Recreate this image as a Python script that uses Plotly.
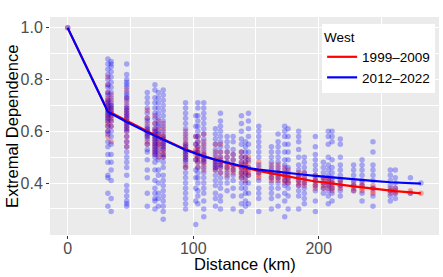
import plotly.graph_objects as go

# ---- data ----
distances = [32.0, 34.6, 47.0, 63.4, 69.5, 72.2, 76.1, 93.9, 102.0, 103.7, 108.4,
             117.7, 121.7, 127.0, 131.8, 138.4, 141.6, 144.0, 152.2, 162.3, 167.6,
             172.9, 175.6, 184.0, 188.5, 197.3, 203.7, 207.6, 210.6, 217.2, 227.8,
             234.5, 243.2, 257.0, 261.0, 273.0, 281.4]

blue_points = [
    [0.88, 0.86, 0.84, 0.82, 0.80, 0.78, 0.77, 0.75, 0.74, 0.72, 0.71, 0.70, 0.69, 0.68, 0.67, 0.66, 0.65, 0.64, 0.62, 0.60, 0.59, 0.56, 0.54, 0.51, 0.48, 0.43, 0.42, 0.36, 0.31],
    [0.87, 0.86, 0.85, 0.83, 0.81, 0.79, 0.77, 0.75, 0.73, 0.71, 0.70, 0.69, 0.68, 0.67, 0.66, 0.64, 0.62, 0.60, 0.58, 0.55, 0.51, 0.48, 0.45, 0.41, 0.34, 0.29],
    [0.86, 0.82, 0.80, 0.79, 0.78, 0.77, 0.75, 0.74, 0.73, 0.72, 0.70, 0.69, 0.68, 0.67, 0.66, 0.65, 0.64, 0.63, 0.62, 0.61, 0.60, 0.58, 0.56, 0.54, 0.52, 0.50, 0.48, 0.46, 0.43, 0.39, 0.37, 0.35, 0.33, 0.32, 0.31],
    [0.75, 0.73, 0.71, 0.69, 0.67, 0.65, 0.64, 0.62, 0.61, 0.60, 0.59, 0.58, 0.57, 0.55, 0.53, 0.52, 0.49, 0.45, 0.42, 0.36, 0.31],
    [0.78, 0.76, 0.73, 0.71, 0.69, 0.67, 0.65, 0.63, 0.61, 0.60, 0.59, 0.58, 0.57, 0.56, 0.55, 0.54, 0.53, 0.52, 0.51, 0.50, 0.48, 0.45, 0.41, 0.38, 0.36, 0.34, 0.33, 0.30],
    [0.75, 0.73, 0.71, 0.69, 0.67, 0.65, 0.63, 0.62, 0.60, 0.59, 0.57, 0.55, 0.53, 0.51, 0.49, 0.45, 0.43, 0.40, 0.36, 0.34, 0.31],
    [0.76, 0.74, 0.72, 0.70, 0.68, 0.66, 0.64, 0.62, 0.60, 0.58, 0.57, 0.56, 0.55, 0.54, 0.53, 0.51, 0.50, 0.48, 0.46, 0.43, 0.41, 0.39, 0.37, 0.35, 0.33, 0.31, 0.29, 0.26],
    [0.71, 0.69, 0.67, 0.65, 0.63, 0.61, 0.59, 0.57, 0.55, 0.54, 0.53, 0.52, 0.51, 0.50, 0.49, 0.48, 0.46, 0.44, 0.42, 0.40, 0.38, 0.36, 0.34, 0.32, 0.30],
    [0.66, 0.62, 0.58, 0.55, 0.52, 0.49, 0.45, 0.42, 0.38, 0.33, 0.24],
    [0.71, 0.69, 0.66, 0.64, 0.62, 0.60, 0.58, 0.56, 0.54, 0.52, 0.50, 0.48, 0.46, 0.44, 0.42, 0.40, 0.37, 0.35, 0.32],
    [0.71, 0.69, 0.67, 0.65, 0.63, 0.61, 0.59, 0.57, 0.55, 0.53, 0.51, 0.50, 0.49, 0.48, 0.46, 0.44, 0.42, 0.40, 0.38, 0.36, 0.33, 0.30, 0.27],
    [0.61, 0.59, 0.57, 0.55, 0.53, 0.51, 0.49, 0.48, 0.47, 0.46, 0.45, 0.43, 0.41, 0.39, 0.36, 0.34, 0.31],
    [0.67, 0.64, 0.62, 0.60, 0.58, 0.56, 0.54, 0.52, 0.50, 0.48, 0.47, 0.46, 0.44, 0.42, 0.40, 0.38, 0.35, 0.33, 0.30],
    [0.58, 0.56, 0.54, 0.52, 0.50, 0.48, 0.46, 0.44, 0.42, 0.40, 0.37],
    [0.58, 0.56, 0.53, 0.51, 0.49, 0.47, 0.45, 0.43, 0.41, 0.38, 0.35, 0.30],
    [0.66, 0.63, 0.60, 0.57, 0.55, 0.52, 0.50, 0.48, 0.46, 0.44, 0.42, 0.40, 0.38, 0.35, 0.32, 0.29],
    [0.56, 0.54, 0.52, 0.50, 0.48, 0.46, 0.44, 0.42, 0.40, 0.38, 0.36, 0.33, 0.31],
    [0.67, 0.64, 0.61, 0.58, 0.55, 0.52, 0.49, 0.46, 0.43, 0.40, 0.36, 0.32],
    [0.62, 0.60, 0.58, 0.56, 0.54, 0.52, 0.50, 0.47, 0.44, 0.41, 0.38, 0.36, 0.34, 0.29],
    [0.54, 0.52, 0.50, 0.48, 0.46, 0.44, 0.42, 0.40, 0.38, 0.36, 0.34, 0.30],
    [0.59, 0.56, 0.54, 0.52, 0.50, 0.48, 0.46, 0.44, 0.42, 0.40, 0.38, 0.35, 0.31],
    [0.62, 0.60, 0.58, 0.55, 0.52, 0.49, 0.47, 0.45, 0.43, 0.41, 0.39, 0.36, 0.33, 0.27],
    [0.61, 0.58, 0.55, 0.52, 0.49, 0.46, 0.44, 0.42, 0.40, 0.38, 0.35, 0.30],
    [0.60, 0.58, 0.56, 0.53, 0.50, 0.47, 0.45, 0.43, 0.41, 0.39, 0.37, 0.35, 0.30],
    [0.50, 0.48, 0.46, 0.44, 0.42, 0.40, 0.38, 0.36, 0.34, 0.32],
    [0.58, 0.54, 0.51, 0.49, 0.47, 0.45, 0.43, 0.41, 0.39, 0.37, 0.33, 0.29],
    [0.48, 0.46, 0.44, 0.42, 0.40, 0.38, 0.36],
    [0.60, 0.58, 0.55, 0.50, 0.47, 0.45, 0.43, 0.41, 0.39, 0.37, 0.35, 0.32],
    [0.60, 0.58, 0.56, 0.49, 0.46, 0.44, 0.42, 0.40, 0.38, 0.36, 0.33],
    [0.57, 0.55, 0.50, 0.47, 0.45, 0.43, 0.41, 0.39, 0.37, 0.35],
    [0.47, 0.45, 0.43, 0.41, 0.39, 0.37],
    [0.49, 0.47, 0.45, 0.43, 0.41, 0.39, 0.36, 0.33],
    [0.56, 0.52, 0.47, 0.45, 0.43, 0.41, 0.38, 0.35, 0.31],
    [0.45, 0.43, 0.41, 0.39, 0.37, 0.35, 0.33],
    [0.45, 0.42, 0.40, 0.38, 0.36, 0.34],
    [0.42, 0.36],
    [0.40],
]

red_points = [
    [0.81, 0.78, 0.75, 0.73, 0.72, 0.71, 0.70, 0.69, 0.68, 0.67, 0.66, 0.65, 0.64, 0.63, 0.62, 0.60, 0.58],
    [0.74, 0.72, 0.70, 0.69, 0.68, 0.67, 0.66, 0.65, 0.64, 0.62, 0.56],
    [0.76, 0.73, 0.71, 0.69, 0.68, 0.67, 0.66, 0.65, 0.64, 0.63, 0.62, 0.61, 0.60, 0.58, 0.56, 0.54],
    [0.68, 0.65, 0.63, 0.61, 0.60, 0.59, 0.58, 0.56, 0.55],
    [0.66, 0.63, 0.61, 0.60, 0.59, 0.58, 0.57, 0.56, 0.55, 0.54, 0.53, 0.52, 0.51],
    [0.64, 0.61, 0.59, 0.58, 0.57, 0.56, 0.55, 0.54, 0.52, 0.50],
    [0.63, 0.61, 0.59, 0.58, 0.57, 0.56, 0.55, 0.54, 0.53, 0.52, 0.51, 0.50],
    [0.60, 0.58, 0.56, 0.55, 0.54, 0.53, 0.52, 0.51, 0.50, 0.49, 0.47, 0.46],
    [0.58, 0.55, 0.53, 0.51, 0.49],
    [0.58, 0.56, 0.54, 0.53, 0.52, 0.51, 0.50, 0.49, 0.48, 0.46],
    [0.59, 0.56, 0.54, 0.52, 0.51, 0.50, 0.49, 0.48, 0.47, 0.45],
    [0.55, 0.52, 0.50, 0.49, 0.48, 0.47, 0.46, 0.45],
    [0.55, 0.52, 0.50, 0.49, 0.48, 0.47, 0.46, 0.44],
    [0.52, 0.50, 0.48, 0.47, 0.46, 0.45, 0.43],
    [0.51, 0.49, 0.47, 0.46, 0.45, 0.44],
    [0.52, 0.50, 0.48, 0.47, 0.46, 0.45, 0.44, 0.43, 0.42],
    [0.50, 0.48, 0.47, 0.46, 0.45, 0.44, 0.43, 0.41],
    [0.50, 0.48, 0.46, 0.45, 0.44, 0.43],
    [0.48, 0.46, 0.45, 0.44, 0.43, 0.42],
    [0.47, 0.45, 0.44, 0.43, 0.42, 0.41],
    [0.47, 0.45, 0.44, 0.43, 0.42, 0.41],
    [0.46, 0.44, 0.43, 0.42, 0.41, 0.40],
    [0.45, 0.43, 0.42, 0.41, 0.40],
    [0.44, 0.43, 0.42, 0.41, 0.40, 0.39],
    [0.44, 0.42, 0.41, 0.40, 0.39],
    [0.43, 0.42, 0.41, 0.40, 0.39, 0.38],
    [0.42, 0.41, 0.40, 0.39, 0.38],
    [0.42, 0.41, 0.40, 0.39, 0.38],
    [0.41, 0.40, 0.39, 0.38, 0.37],
    [0.41, 0.40, 0.39, 0.38],
    [0.40, 0.39, 0.38, 0.37],
    [0.40, 0.39, 0.38, 0.37],
    [0.39, 0.38, 0.37, 0.36],
    [0.38, 0.37, 0.36],
    [0.38, 0.37, 0.36],
    [0.37, 0.36],
    [0.36],
]

fit_distances = [0.0] + distances
red_fit = [1.0, 0.678, 0.672, 0.640, 0.600, 0.586, 0.579, 0.569, 0.530, 0.515, 0.512, 0.504,
           0.490, 0.484, 0.477, 0.471, 0.463, 0.459, 0.456, 0.447, 0.437, 0.432,
           0.427, 0.424, 0.417, 0.413, 0.406, 0.403, 0.401, 0.399, 0.394, 0.387,
           0.383, 0.378, 0.371, 0.369, 0.364, 0.360]
blue_fit = [1.0, 0.676, 0.669, 0.636, 0.596, 0.582, 0.576, 0.566, 0.528, 0.514, 0.511, 0.503,
            0.490, 0.485, 0.478, 0.473, 0.466, 0.463, 0.458, 0.452, 0.446, 0.443,
            0.440, 0.438, 0.434, 0.432, 0.428, 0.425, 0.423, 0.422, 0.419, 0.414,
            0.411, 0.408, 0.403, 0.402, 0.400, 0.398]

series_names = ["1999–2009", "2012–2022"]
x_ticks = [0, 100, 200]
y_ticks = [0.4, 0.6, 0.8, 1.0]


def flatten(dists, cols):
    xs, ys = [0.0], [1.0]
    for d, col in zip(dists, cols):
        for v in col:
            xs.append(d)
            ys.append(v)
    return xs, ys


rx, ry = flatten(distances, red_points)
bx, by = flatten(distances, blue_points)

fig = go.Figure()
fig.add_trace(go.Scatter(x=rx, y=ry, mode="markers", showlegend=False,
                         marker=dict(color="rgb(255,0,0)", size=5.5, opacity=0.32, line=dict(width=0))))
fig.add_trace(go.Scatter(x=bx, y=by, mode="markers", showlegend=False,
                         marker=dict(color="rgb(0,0,255)", size=5.5, opacity=0.3, line=dict(width=0))))
fig.add_trace(go.Scatter(x=fit_distances, y=red_fit, mode="lines", name=series_names[0],
                         line=dict(color="rgb(255,0,0)", width=2.2)))
fig.add_trace(go.Scatter(x=fit_distances, y=blue_fit, mode="lines", name=series_names[1],
                         line=dict(color="rgb(0,0,255)", width=2.2)))

fig.update_layout(
    width=443, height=277,
    margin=dict(l=50, r=4, t=17, b=42, autoexpand=False),
    paper_bgcolor="white",
    plot_bgcolor="#EBEBEB",
    font=dict(family="Liberation Sans, Arial, sans-serif", color="black"),
    legend=dict(
        title=dict(text="West", font=dict(size=13.5)),
        font=dict(size=13.5),
        x=0.99, y=0.968, xanchor="right", yanchor="top",
        bgcolor="white", borderwidth=0,
        itemwidth=30, tracegroupgap=0,
    ),
    xaxis=dict(
        range=[-14.1, 295.8], tickvals=x_ticks, ticktext=[str(t) for t in x_ticks],
        showgrid=True, gridcolor="white", gridwidth=1.2, zeroline=False, automargin=False,
        ticks="outside", ticklen=3, tickcolor="#333333", tickwidth=1,
        ticklabelstandoff=-4,
        tickfont=dict(size=16, color="#4D4D4D"),
        minor=dict(tickvals=[50, 150, 250], showgrid=True, gridcolor="white", gridwidth=0.5, ticks=""),
        showline=False,
    ),
    yaxis=dict(
        range=[0.199, 1.042], tickvals=y_ticks, ticktext=["%.1f" % t for t in y_ticks],
        showgrid=True, gridcolor="white", gridwidth=1.2, zeroline=False, automargin=False,
        ticks="outside", ticklen=3, tickcolor="#333333", tickwidth=1,
        tickfont=dict(size=16, color="#4D4D4D"),
        minor=dict(tickvals=[0.3, 0.5, 0.7, 0.9], showgrid=True, gridcolor="white", gridwidth=0.5, ticks=""),
        showline=False,
    ),
    annotations=[
        dict(text="Distance (km)", xref="paper", yref="paper", x=0.5, y=-0.135,
             xanchor="center", yanchor="middle", showarrow=False,
             font=dict(size=16.5, color="black")),
        dict(text="Extremal Dependence", xref="paper", yref="paper", x=-0.098, y=0.5,
             xanchor="center", yanchor="middle", showarrow=False, textangle=-90,
             font=dict(size=16.5, color="black")),
    ],
)

fig.write_html("out.html", config={"displayModeBar": False},
               post_script="document.body.style.margin='0';document.body.style.overflow='hidden';")
